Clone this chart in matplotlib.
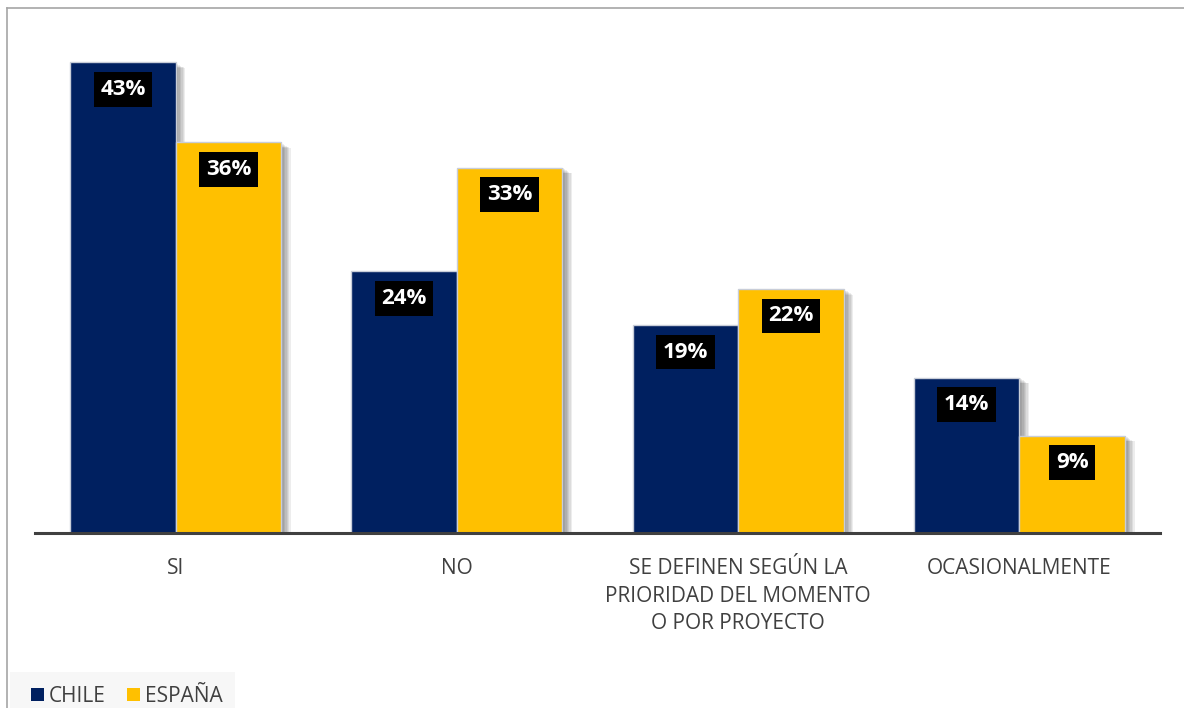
import matplotlib.pyplot as plt
import matplotlib.patheffects as pe
from matplotlib.lines import Line2D
from matplotlib.patches import Rectangle
import numpy as np

categories = ['SI', 'NO', 'SE DEFINEN SEGÚN LA\nPRIORIDAD DEL MOMENTO\nO POR PROYECTO', 'OCASIONALMENTE']
chile = [43.0, 23.9, 19.0, 14.2]
espana = [35.7, 33.4, 22.3, 8.9]
series_names = ['CHILE', 'ESPAÑA']
colors = ['#002060', '#FFC000']

plt.rcParams['font.family'] = ['Open Sans', 'DejaVu Sans']

fig = plt.figure(figsize=(11.84, 7.08), dpi=100)
ax = fig.add_axes([35 / 1184, (708 - 533) / 708, 1125 / 1184, 511 / 708])

x = np.arange(len(categories))
w = 0.375
# soft shadow: several faint offset copies
shadow = [pe.SimplePatchShadow(offset=(o, -o * 0.6), shadow_rgbFace='#000000', alpha=0.07)
          for o in (1, 2, 3, 4, 5, 6, 7)] + [pe.Normal()]
for i, (vals, name) in enumerate(zip([chile, espana], series_names)):
    b = ax.bar(x + (i - 0.5) * w, vals, width=w, color=colors[i], label=name,
               edgecolor='#c8cdd8', linewidth=1, zorder=2)
    for p in b:
        p.set_path_effects(shadow)
    for xi, v in zip(x + (i - 0.5) * w, vals):
        ax.annotate(f'{round(v)}%', xy=(xi, v), xytext=(0, -27), textcoords='offset pixels',
                    ha='center', va='center', color='white', fontsize=16, fontweight='bold',
                    bbox=dict(boxstyle='square,pad=0.3', facecolor='black', edgecolor='none'),
                    zorder=4)

ax.set_xlim(-0.5, 3.5)
ax.set_ylim(0, 46.7)
ax.set_yticks([])
ax.set_xticks(x)
ax.set_xticklabels(categories, fontsize=15, color='#404040', linespacing=1.42)
ax.tick_params(axis='x', length=0, pad=18)
for s in ['top', 'right', 'left']:
    ax.spines[s].set_visible(False)
ax.spines['bottom'].set_color('#404040')
ax.spines['bottom'].set_linewidth(2.2)
ax.spines['bottom'].set_zorder(5)

# outer frame
fig.add_artist(Line2D([7 / 1184, 1], [1 - 8 / 708, 1 - 8 / 708], color='#a6a6a6', lw=1.2))
fig.add_artist(Line2D([7 / 1184, 7 / 1184], [0, 1 - 8 / 708], color='#a6a6a6', lw=1.2))

# legend background
fig.add_artist(Rectangle((10 / 1184, 0), 225 / 1184, 36 / 708, transform=fig.transFigure,
                         facecolor='#f7f7f7', edgecolor='none', zorder=0))
leg = fig.legend(loc='center left', bbox_to_anchor=(31 / 1184, 12 / 708), ncol=2, frameon=False,
                 fontsize=15, handlelength=0.6, handleheight=0.6, handletextpad=0.25,
                 columnspacing=1.05, borderpad=0, borderaxespad=0)
for h in leg.legend_handles:
    h.set_path_effects([])
    h.set_edgecolor('none')
for t in leg.get_texts():
    t.set_color('#404040')

fig.savefig('out.png', dpi=100)
